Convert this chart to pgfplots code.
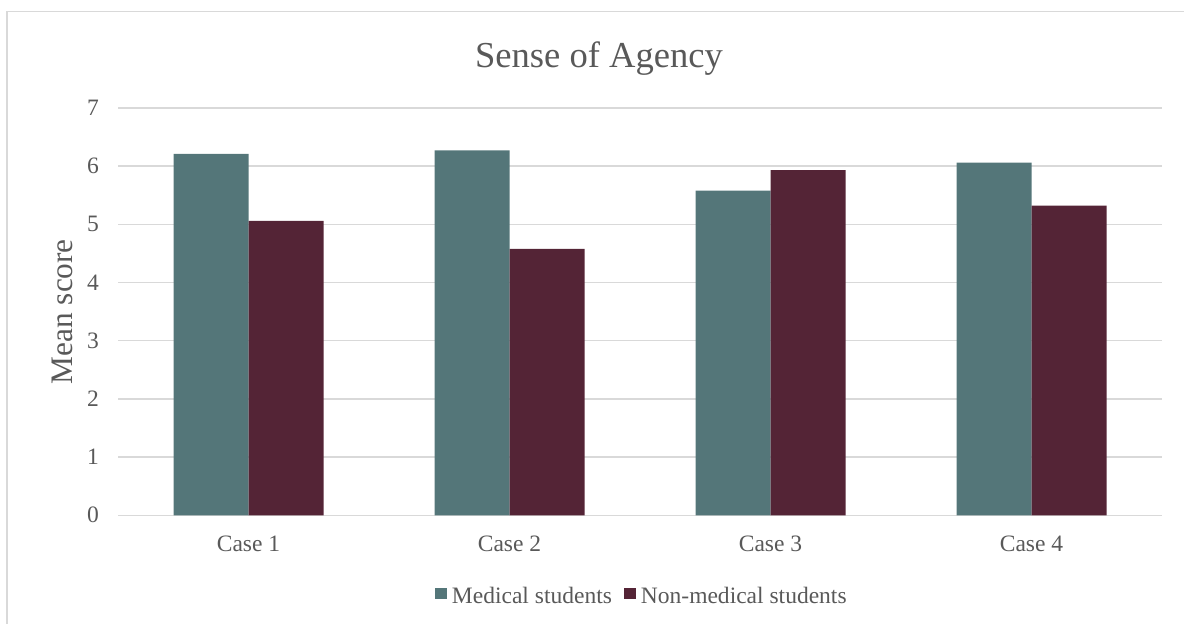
\documentclass[border=0pt]{standalone}
\usepackage{fontspec}
\setmainfont{Liberation Serif}
\usepackage{pgfplots}
\pgfplotsset{compat=1.18}
\definecolor{txt}{HTML}{595959}
\definecolor{gridc}{HTML}{D9D9D9}
\definecolor{med}{HTML}{547679}
\definecolor{nonmed}{HTML}{542436}
\begin{document}
\begin{tikzpicture}[x=1bp,y=1bp]
\useasboundingbox (0,0) rectangle (1184,624);
\draw[gridc, line width=1.3bp] (7,0) -- (7,612.3) -- (1184,612.3);
\begin{axis}[
  at={(118bp,108.7bp)}, anchor=south west,
  scale only axis, width=1044bp, height=407.3bp,
  ybar=0pt, bar width=75bp,
  xmin=-0.5, xmax=3.5, ymin=0, ymax=7,
  xtick={0,1,2,3}, xticklabels={Case 1,Case 2,Case 3,Case 4},
  ytick={0,1,2,3,4,5,6,7},
  ymajorgrids, grid style={gridc, line width=1.5bp},
  axis line style={draw=none},
  major tick length=0pt,
  tick label style={text=txt, font=\fontsize{23.6}{28}\selectfont},
  /pgf/number format/assume math mode=true,
  yticklabel style={anchor=east, inner sep=0pt, xshift=-19bp},
  xticklabel style={anchor=north, inner sep=0pt, yshift=-20bp},
  title={Sense of Agency},
  every axis title/.style={at={(axis description cs:0.4607,1.099)}, anchor=base, text=txt, font=\fontsize{36.7}{44}\selectfont},
  ylabel={Mean score},
  every axis y label/.style={at={(axis description cs:-0.0431,0.5)}, rotate=90, anchor=base, text=txt, font=\fontsize{31.4}{38}\selectfont},
  legend columns=-1,
  legend style={at={(axis description cs:0.3036,-0.1956)}, anchor=west, draw=none, fill=none,
    inner sep=0pt, outer sep=0pt, column sep=0pt, text=txt, font=\fontsize{23.6}{28}\selectfont,
    nodes={inner sep=0pt, text depth=0pt},
    /tikz/every odd column/.append style={column sep=5bp},
    /tikz/every even column/.append style={column sep=12bp}},
  legend image code/.code={\fill[#1] (0bp,-4bp) rectangle (12bp,7bp);},
]
\addplot[fill=med, draw=none] coordinates {(0,6.21) (1,6.27) (2,5.58) (3,6.06)};
\addplot[fill=nonmed, draw=none] coordinates {(0,5.06) (1,4.58) (2,5.93) (3,5.32)};
\legend{Medical students, Non-medical students}
\end{axis}
\end{tikzpicture}
\end{document}
